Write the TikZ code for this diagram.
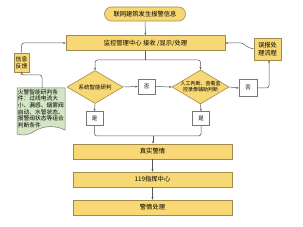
\documentclass[tikz,border=0pt]{standalone}
\usepackage{fontspec}
\setmainfont{Noto Sans CJK SC}
\usetikzlibrary{shapes.geometric,arrows.meta}
\definecolor{yfill}{HTML}{F7D874}
\definecolor{yline}{HTML}{A08A50}
\definecolor{gfill}{HTML}{D3E6C3}
\definecolor{lcol}{HTML}{555555}
\tikzset{
  ybox/.style={draw=yline, fill=yfill, line width=0.6pt, inner sep=0pt, align=center, font=\fontsize{6.3}{7}\selectfont},
  wbox/.style={draw=lcol!80, fill=white, line width=0.5pt, inner sep=0pt, minimum width=17pt, minimum height=15pt, font=\fontsize{5.5}{6}\selectfont},
  ydia/.style={diamond, draw=yline, fill=yfill, line width=0.6pt, inner sep=0pt, aspect=1.7},
  conn/.style={draw=lcol, line width=0.5pt, rounded corners=2.5pt},
  arr/.style={conn, -{Stealth[length=2.5pt,width=2pt]}},
}
\begin{document}
\begin{tikzpicture}[x=1pt,y=-1pt]
\useasboundingbox (0,0) rectangle (303,227);
% nodes
\node[ybox, rounded corners=7pt, minimum width=81pt, minimum height=14pt] (top) at (145,14) {联网建筑发生报警信息};
\node[ybox, minimum width=159pt, minimum height=15pt] (main) at (145.5,43) {监控管理中心 接收 /显示/处理};
\node[ybox, minimum width=27pt, minimum height=22pt, font=\fontsize{6.3}{7.8}\selectfont] (wubao) at (267.5,49) {误报处\\理流程};
\node[ybox, minimum width=15pt, minimum height=19pt, font=\fontsize{5.8}{7.3}\selectfont] (xinxi) at (21.5,62.5) {信息\\反馈};
\node[ydia, minimum width=56pt, minimum height=33pt, label={[font=\fontsize{5.5}{6}\selectfont]center:系统智能研判}] (d1) at (95,87) {};
\node[ydia, minimum width=57pt, minimum height=34pt, label={[font=\fontsize{5}{6}\selectfont, align=center]center:人工判断、查看监\\控录像辅助判断}] (d2) at (200.5,87) {};
\node[wbox] (no1) at (146.5,86.5) {否};
\node[wbox, minimum width=18pt, minimum height=17pt] (no2) at (248,88) {否};
\node[wbox, minimum height=14pt] (yes1) at (94.5,118.5) {是};
\node[wbox, minimum height=14pt] (yes2) at (201,118.5) {是};
\node[ybox, minimum width=159pt, minimum height=15pt] (real) at (152.5,151.5) {真实警情};
\node[ybox, minimum width=159pt, minimum height=15pt] (c119) at (152.5,179.5) {119指挥中心};
\node[ybox, minimum width=159pt, minimum height=15pt] (handle) at (152.5,207.5) {警情处理};
% document shape
\draw[draw=lcol!80, fill=gfill, line width=0.5pt] (17,88) -- (65,88) -- (65,130)
  .. controls (53,124) and (41,127) .. (35,131)
  .. controls (29,135) and (23,136) .. (17,134) -- cycle;
\node[inner sep=0pt, align=left, anchor=north west, font=\fontsize{5.75}{6.7}\selectfont] (doc) at (17.6,89)
  {火警智能研判条\\件：过线电流大\\小、漏感、烟雾阀\\启动、水管状态、\\报警阀状态等组合\\判断条件};
\coordinate (doctop) at (42,88);
% connectors
\draw[arr] (top) -- (main);
\coordinate (sp) at (145.5,60);
\draw[conn] (main.south) -- (sp);
\draw[arr] (sp) -| (d1.north);
\draw[arr] (sp) -| (d2.north);
\draw[arr] (d1.east) -- (no1.west);
\draw[arr] (no1.east) -- (d2.west);
\draw[arr] (d2.east) -- (no2.west);
\draw[arr] (no2.east) -| ([xshift=1.5pt]wubao.south);
\draw[arr] (wubao.west) -- (247,47) -- (243,43) -- (main.east);
\draw[arr] (d1.south) -- (yes1.north);
\draw[arr] (d2.south) -- (yes2.north);
\coordinate (mg) at (153,136);
\draw[conn] (yes1.south) |- (mg);
\draw[conn] (yes2.south) |- (mg);
\draw[arr] (mg) -- (real.north -| mg);
\draw[arr] (real) -- (c119);
\draw[arr] (c119) -- (handle);
\draw[arr] (xinxi.north) |- (main.west);
\draw[arr] (doctop) |- (21.5,75) -- (xinxi.south);
\end{tikzpicture}
\end{document}
